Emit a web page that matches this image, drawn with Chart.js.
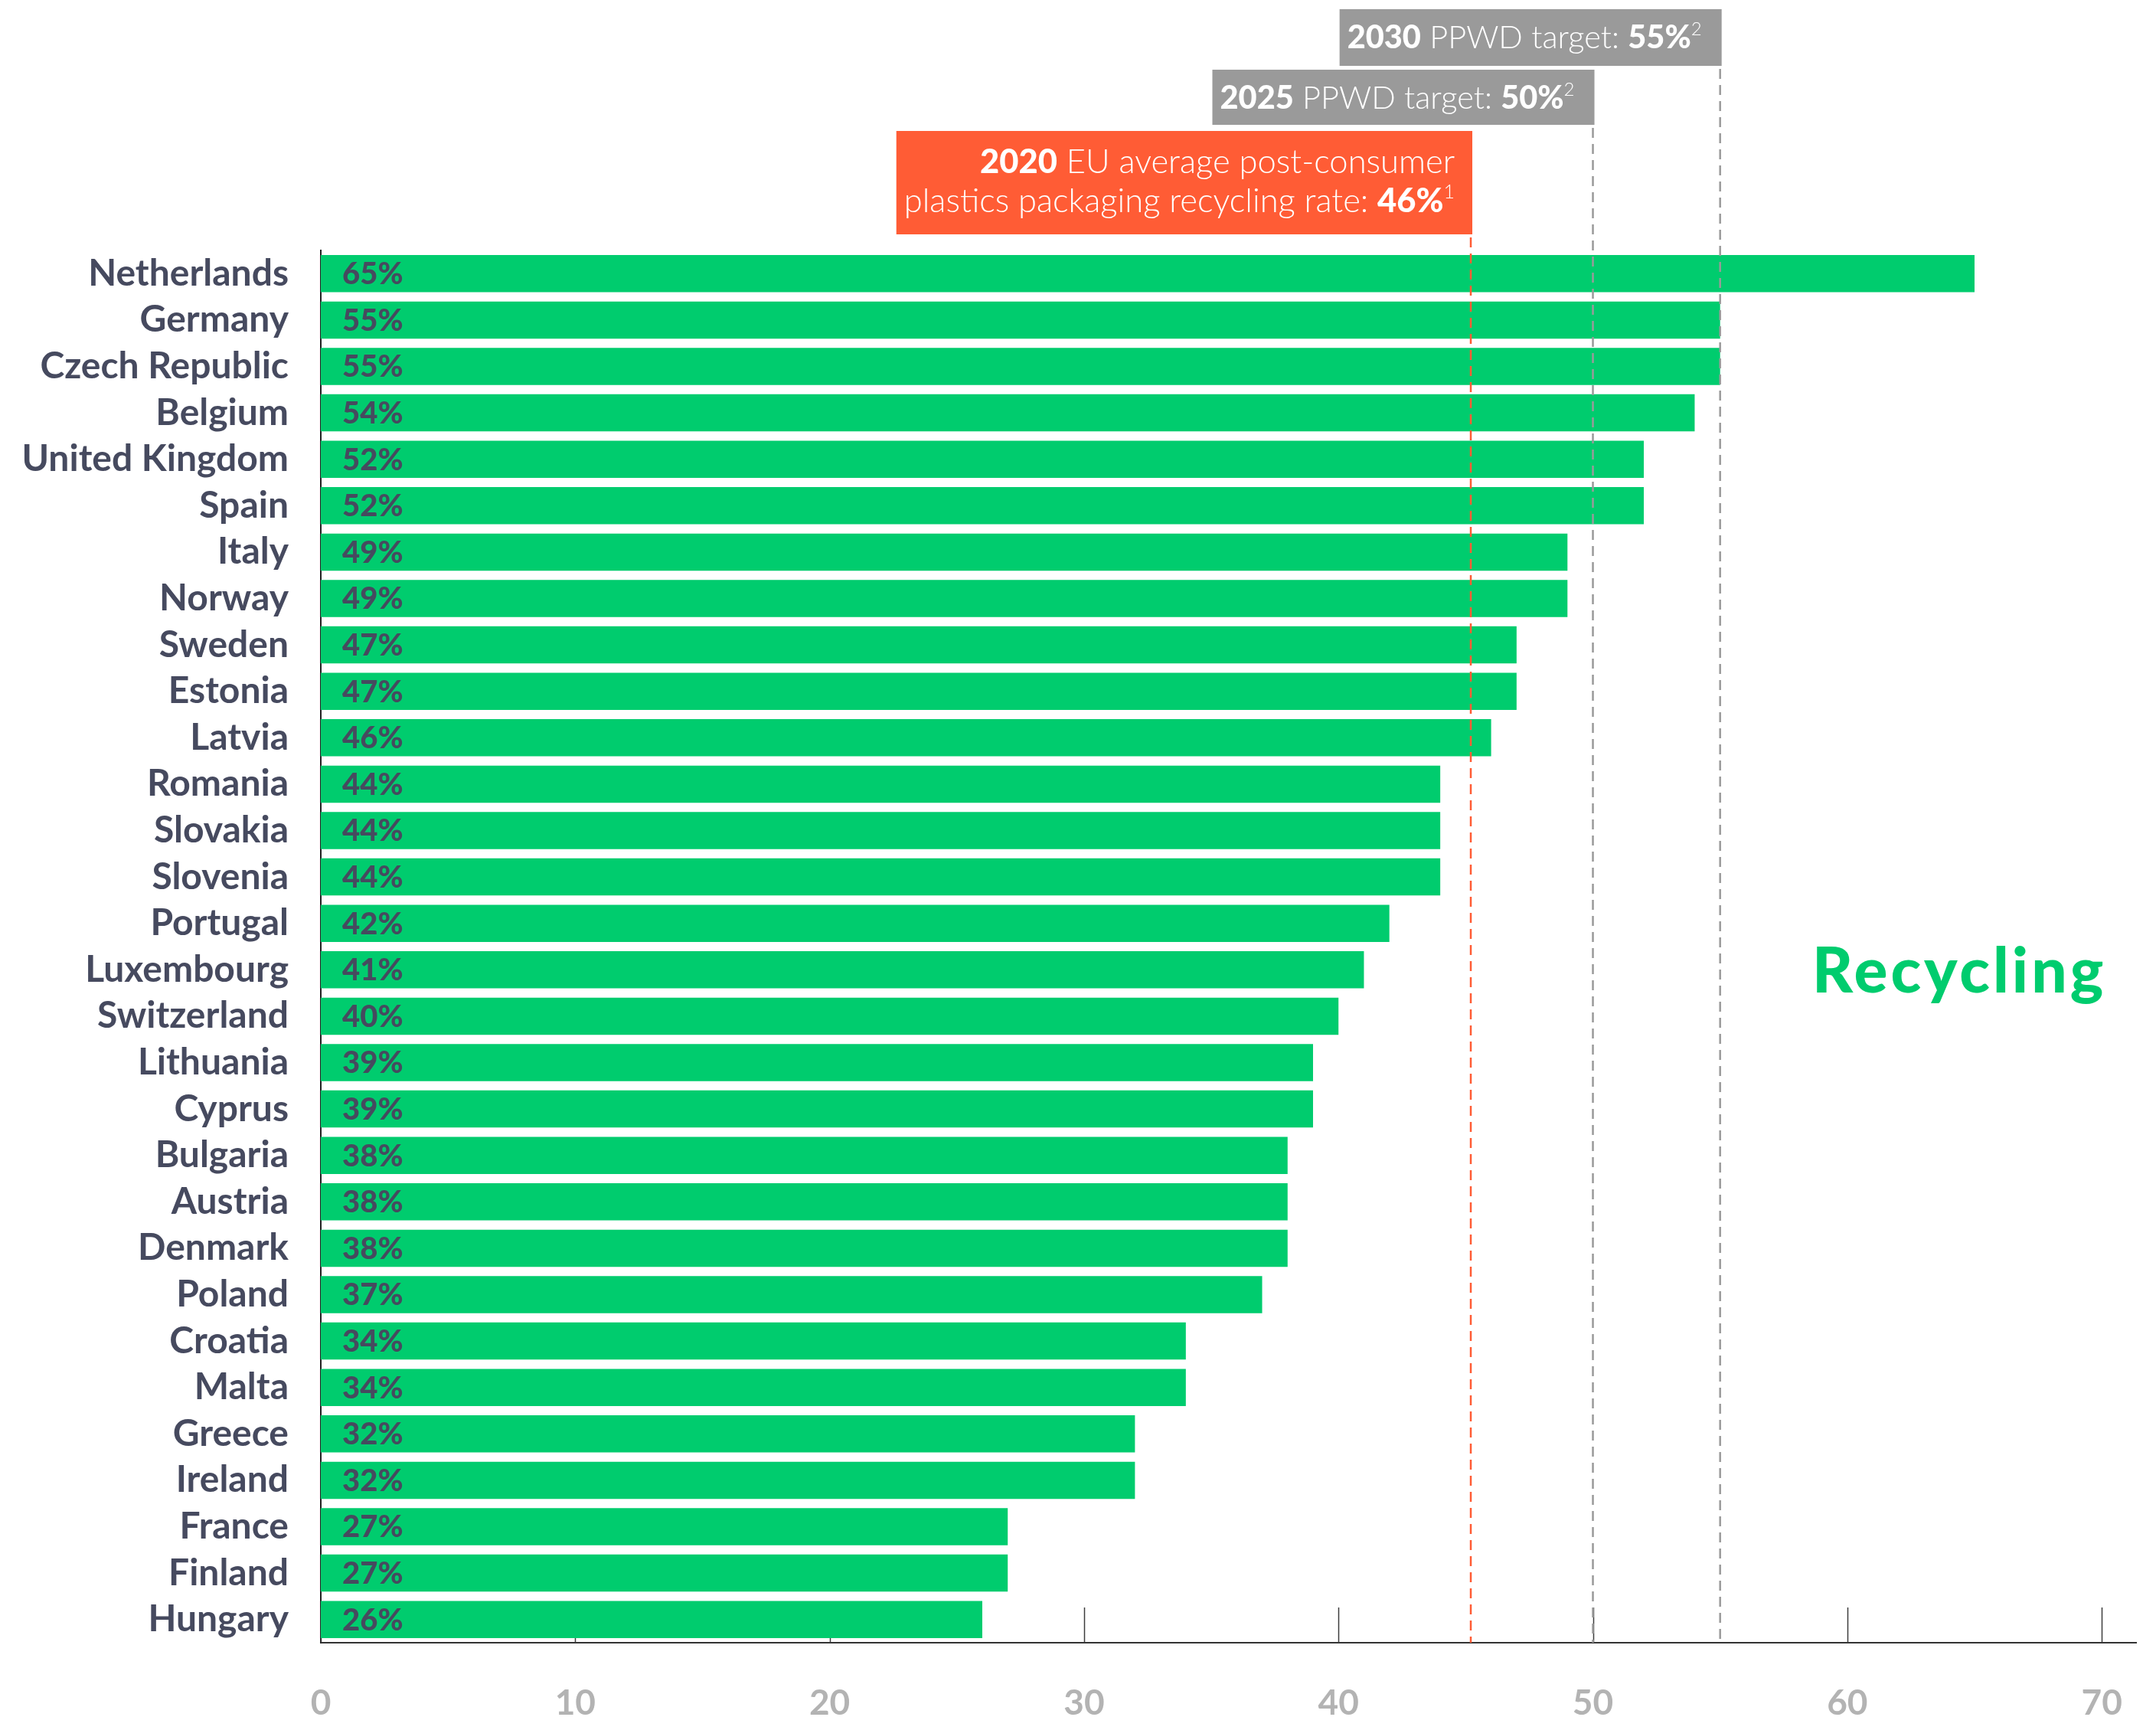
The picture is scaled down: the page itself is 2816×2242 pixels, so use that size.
<!DOCTYPE html>
<html>
<head>
<meta charset="utf-8">
<script src="https://cdn.jsdelivr.net/npm/chart.js@4.4.1/dist/chart.umd.min.js"></script>
<style>
html,body{margin:0;padding:0;background:#ffffff;}
#c{display:block;width:2816px;height:2242px;}
</style>
</head>
<body>
<canvas id="c" width="2816" height="2242"></canvas>
<script>
// ---------- DATA ----------
const countries = ["Netherlands","Germany","Czech Republic","Belgium","United Kingdom","Spain","Italy","Norway","Sweden","Estonia","Latvia","Romania","Slovakia","Slovenia","Portugal","Luxembourg","Switzerland","Lithuania","Cyprus","Bulgaria","Austria","Denmark","Poland","Croatia","Malta","Greece","Ireland","France","Finland","Hungary"];
const recyclingRates = [65,55,55,54,52,52,49,49,47,47,46,44,44,44,42,41,40,39,39,38,38,38,37,34,34,32,32,27,27,26];
const xTickValues = [0,10,20,30,40,50,60,70];
const referenceValues = [45.2, 50, 55];
const referenceLabels = [
  [[{t:"2020",b:true},{t:" EU average post-consumer"}],[{t:"plastics packaging recycling rate: "},{t:"46%",b:true},{t:"1",sup:true}]],
  [[{t:"2025",b:true},{t:" PPWD target: "},{t:"50%",b:true},{t:"2",sup:true}]],
  [[{t:"2030",b:true},{t:" PPWD target: "},{t:"55%",b:true},{t:"2",sup:true}]]
];
const seriesTitle = "Recycling";

// ---------- STYLE ----------
const GREEN = "#00cc6e";
const LABEL = "#464a5f";
const FONT = "Lato";
const refStyles = [
  {color:"#ff5c35", top:171, bottom:306, baselines:[226,277], size:43.5, padR:23, padL:10},
  {color:"#9a9a9a", top:91,  bottom:163, baselines:[142], size:41.5, padR:26, padL:10},
  {color:"#9a9a9a", top:12,  bottom:86,  baselines:[63],  size:41.5, padR:26, padL:10}
];

function segFont(s, size){
  if (s.sup) return "300 " + Math.round(size*0.58) + "px " + FONT;
  return (s.b ? "900 " : "300 ") + size + "px " + FONT;
}
function richWidth(ctx, segs, size){
  let w = 0;
  segs.forEach(s => { ctx.font = segFont(s,size); w += ctx.measureText(s.t).width; });
  return w;
}
function drawRich(ctx, segs, size, rightX, baseline){
  let x = rightX - richWidth(ctx, segs, size);
  ctx.textAlign = "left"; ctx.textBaseline = "alphabetic";
  segs.forEach(s => {
    ctx.font = segFont(s,size);
    ctx.fillText(s.t, x, baseline + (s.sup ? -Math.round(size*0.42) : 0));
    x += ctx.measureText(s.t).width;
  });
}

const decor = {
  id: "decor",
  beforeDatasetsDraw(chart){
    const {ctx, chartArea:a, scales:{x}} = chart;
    ctx.save();
    ctx.strokeStyle = "#3c3c3c"; ctx.lineWidth = 1.5;
    xTickValues.forEach(v => {
      const px = Math.round(x.getPixelForValue(v)) + 0.5;
      ctx.beginPath(); ctx.moveTo(px, a.bottom); ctx.lineTo(px, a.bottom - 46); ctx.stroke();
    });
    ctx.restore();
  },
  afterDatasetsDraw(chart){
    const {ctx, chartArea:a, scales:{x}} = chart;
    const meta = chart.getDatasetMeta(0);
    ctx.save();
    // value labels inside bars
    ctx.font = "900 40px " + FONT; ctx.fillStyle = LABEL;
    ctx.textAlign = "left"; ctx.textBaseline = "middle";
    meta.data.forEach((bar, i) => { ctx.fillText(recyclingRates[i] + "%", bar.base + 28, bar.y + 1); });

    // reference lines + boxes
    referenceValues.forEach((v, i) => {
      const st = refStyles[i];
      const px = x.getPixelForValue(v);
      ctx.strokeStyle = st.color; ctx.lineWidth = 2.5; ctx.setLineDash([13, 8]);
      ctx.beginPath(); ctx.moveTo(px, st.bottom + 4); ctx.lineTo(px, a.bottom); ctx.stroke();
      ctx.setLineDash([]);
      const lines = referenceLabels[i];
      let maxW = 0;
      lines.forEach(l => { maxW = Math.max(maxW, richWidth(ctx, l, st.size)); });
      const right = px + 2;
      const textRight = right - st.padR;
      const left = textRight - maxW - st.padL;
      ctx.fillStyle = st.color;
      ctx.fillRect(left, st.top, right - left, st.bottom - st.top);
      ctx.fillStyle = "#ffffff";
      lines.forEach((l, j) => drawRich(ctx, l, st.size, textRight, st.baselines[j]));
    });

    // series title
    ctx.font = "900 82px " + FONT; ctx.fillStyle = GREEN;
    ctx.textAlign = "left"; ctx.textBaseline = "alphabetic";
    try { ctx.letterSpacing = "4px"; } catch(e) {}
    ctx.fillText(seriesTitle, 2367, 1296);
    try { ctx.letterSpacing = "0px"; } catch(e) {}
    ctx.restore();
  }
};

function build(){
  const ctx = document.getElementById("c").getContext("2d");
  new Chart(ctx, {
    type: "bar",
    data: {
      labels: countries,
      datasets: [{ data: recyclingRates, backgroundColor: GREEN, borderWidth: 0, barPercentage: 0.8, categoryPercentage: 1 }]
    },
    options: {
      indexAxis: "y",
      responsive: false,
      animation: false,
      devicePixelRatio: 1,
      layout: { padding: { top: 327, right: 26, left: 0, bottom: 0 } },
      plugins: { legend: { display: false }, tooltip: { enabled: false } },
      scales: {
        x: {
          type: "linear", min: 0, max: 71.35,
          afterBuildTicks: s => { s.ticks = xTickValues.map(v => ({ value: v })); },
          grid: { display: false, drawTicks: false },
          border: { display: true, color: "#333333", width: 2 },
          ticks: { font: { family: FONT, size: 46, weight: "700" }, color: "#b3b3b3", padding: 52, maxRotation: 0, autoSkip: false },
          afterFit: s => { s.height = 97; s.paddingLeft = 0; s.paddingRight = 0; }
        },
        y: {
          grid: { display: false, drawTicks: false },
          border: { display: true, color: "#222222", width: 2 },
          ticks: { font: { family: FONT, size: 48, weight: "700" }, color: LABEL, padding: 42, autoSkip: false },
          afterFit: s => { s.width = 419; }
        }
      }
    },
    plugins: [decor]
  });
}
build();
</script>
</body>
</html>
